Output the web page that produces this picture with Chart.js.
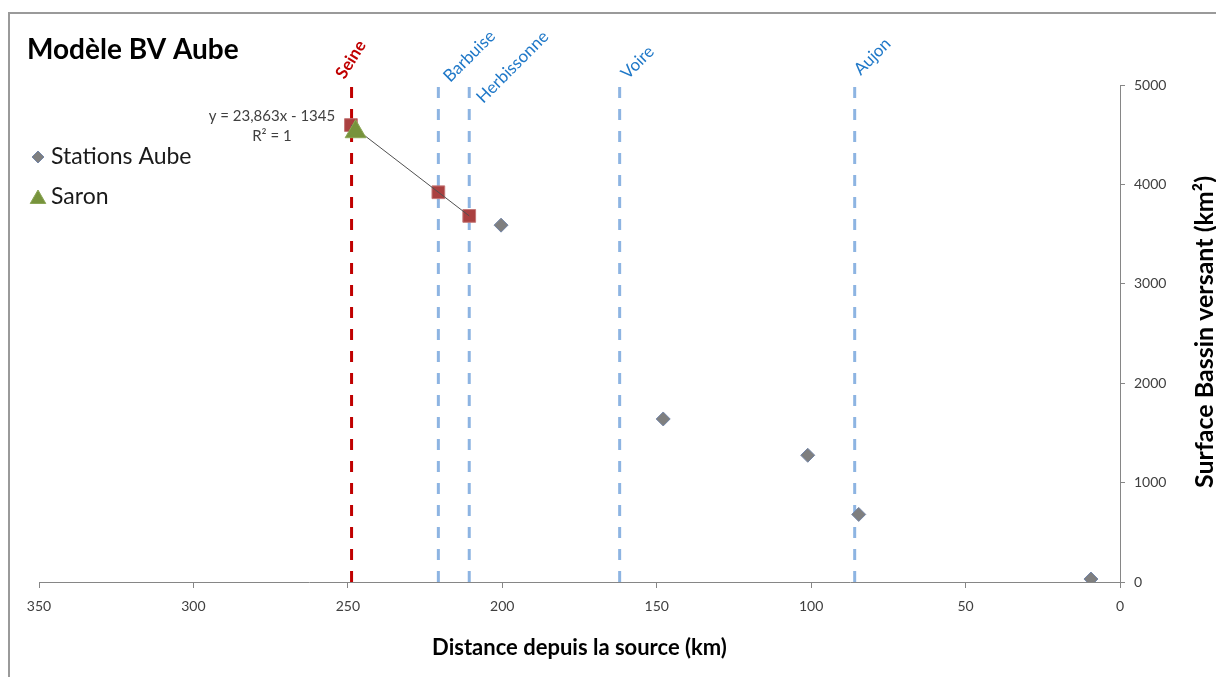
<!DOCTYPE html>
<html lang="fr">
<head>
<meta charset="UTF-8">
<title>Modèle BV Aube</title>
<script src="https://cdn.jsdelivr.net/npm/chart.js"></script>
<style>
  body { margin: 0; background: #fff; }
</style>
</head>
<body>
<canvas id="bvChart" width="1216" height="677"></canvas>
<script>
// stations le long de l'Aube : distance depuis la source (km) / surface BV (km²)
const stationKm = [200.4, 147.9, 101.1, 84.6, 9.4];
const stationArea = [3590, 1640, 1275, 680, 30];

const saronKm = [247.5];
const saronArea = [4530];

// points aux confluences (Seine, Barbuise, Herbissonne)
const confluenceKm = [249.0, 220.7, 210.7];
const confluenceArea = [4597, 3921, 3683];

// courbe de tendance : y = 23,863x - 1345
const trendKm = [249.0, 210.7];
const trendArea = [4597, 3683];

// affluents (lignes verticales)
const riverNames = ['Seine', 'Barbuise', 'Herbissonne', 'Voire', 'Aujon'];
const riverKm = [248.8, 220.7, 210.7, 162.0, 85.9];

const xMin = 0, xMax = 350, xStep = 50;
const yMin = 0, yMax = 5000, yStep = 1000;

const FONT = 'Lato, "Open Sans", sans-serif';
const BLUE = '#8DB4E2';
const RED = '#C00000';

function pts(xs, ys) {
  return xs.map((x, i) => ({ x: x, y: ys[i] }));
}

const riverSets = riverNames.map((name, i) => ({
  label: name,
  data: [{ x: riverKm[i], y: yMin }, { x: riverKm[i], y: yMax }],
  showLine: true,
  borderColor: i === 0 ? RED : BLUE,
  borderWidth: 3,
  borderDash: [11, 11],
  pointRadius: 0,
  order: 10
}));

// étiquettes des affluents : angle + décalage par rapport au haut de la ligne
const labelStyle = {
  Seine: { rot: -58, dx: -7, dy: -5, color: RED, bold: true },
  Barbuise: { rot: -45, dx: 12, dy: -2 },
  Herbissonne: { rot: -45, dx: 14, dy: 19 },
  Voire: { rot: -45, dx: 8, dy: -5 },
  Aujon: { rot: -45, dx: 6, dy: -9 }
};

const decor = {
  id: 'decor',
  beforeDraw(chart) {
    const ctx = chart.ctx;
    ctx.save();
    ctx.fillStyle = '#fff';
    ctx.fillRect(0, 0, chart.width, chart.height);
    ctx.strokeStyle = '#9a9a9a';
    ctx.lineWidth = 2;
    ctx.beginPath();
    ctx.moveTo(9, chart.height);
    ctx.lineTo(9, 13);
    ctx.lineTo(chart.width, 13);
    ctx.stroke();
    ctx.restore();
  },
  afterDatasetsDraw(chart) {
    const ctx = chart.ctx;
    const xs = chart.scales.x, ys = chart.scales.y;
    ctx.save();
    // noms des affluents
    riverNames.forEach((name, i) => {
      const st = labelStyle[name];
      const px = xs.getPixelForValue(riverKm[i]);
      const py = ys.getPixelForValue(yMax);
      ctx.save();
      ctx.translate(px + st.dx, py + st.dy);
      ctx.rotate(st.rot * Math.PI / 180);
      ctx.font = (st.bold ? 'bold ' : '') + '17px ' + FONT;
      ctx.fillStyle = st.color || '#1F78C8';
      ctx.textAlign = 'left';
      ctx.textBaseline = 'alphabetic';
      ctx.fillText(name, 0, 0);
      ctx.restore();
    });
    // équation de la tendance
    const tx = xs.getPixelForValue(trendKm[0]) - 79;
    const ty = ys.getPixelForValue(trendArea[0]);
    ctx.font = '15px ' + FONT;
    ctx.fillStyle = '#404040';
    ctx.textAlign = 'center';
    ctx.textBaseline = 'middle';
    ctx.fillText('y = 23,863x - 1345', tx, ty - 9);
    ctx.fillText('R² = 1', tx, ty + 11);
    ctx.restore();
  },
  afterDraw(chart) {
    const ctx = chart.ctx;
    ctx.save();
    // titre
    ctx.fillStyle = '#000';
    ctx.font = 'bold 28px ' + FONT;
    ctx.textAlign = 'left';
    ctx.textBaseline = 'middle';
    ctx.fillText('Modèle BV Aube', 27, 50);

    // légende
    const items = [
      { text: 'Stations Aube', ds: chart.data.datasets[2], y: 157, r: 6 },
      { text: 'Saron', ds: chart.data.datasets[3], y: 197, r: 9 }
    ];
    items.forEach(it => {
      ctx.fillStyle = it.ds.backgroundColor;
      ctx.strokeStyle = it.ds.borderColor;
      ctx.lineWidth = 1;
      Chart.helpers.drawPoint(ctx, {
        pointStyle: it.ds.pointStyle, radius: it.r, rotation: 0, borderWidth: 1
      }, 38, it.y + (it.ds.pointStyle === 'triangle' ? 2 : 0));
      ctx.fillStyle = '#1a1a1a';
      ctx.font = '23px ' + FONT;
      ctx.textAlign = 'left';
      ctx.textBaseline = 'middle';
      ctx.fillText(it.text, 51, it.y);
    });

    // titre de l'axe Y (lecture de bas en haut)
    ctx.translate(1205, 332);
    ctx.rotate(-Math.PI / 2);
    ctx.font = 'bold 25px ' + FONT;
    ctx.fillStyle = '#000';
    ctx.textAlign = 'center';
    ctx.textBaseline = 'middle';
    ctx.fillText('Surface Bassin versant (km²)', 0, 0);
    ctx.restore();
  }
};

new Chart(document.getElementById('bvChart').getContext('2d'), {
  type: 'scatter',
  data: {
    datasets: [
      {
        label: 'Tendance',
        data: pts(trendKm, trendArea),
        showLine: true,
        borderColor: '#505050',
        borderWidth: 1,
        pointRadius: 0,
        order: 1
      },
      {
        label: 'Confluences',
        data: pts(confluenceKm, confluenceArea),
        pointStyle: 'rect',
        pointRadius: 9,
        backgroundColor: '#AA4040',
        borderColor: '#C47777',
        borderWidth: 1,
        order: 2
      },
      {
        label: 'Stations Aube',
        data: pts(stationKm, stationArea),
        pointStyle: 'rectRot',
        pointRadius: 7,
        backgroundColor: '#7F7F7F',
        borderColor: '#7486A8',
        borderWidth: 1,
        order: 0
      },
      {
        label: 'Saron',
        data: pts(saronKm, saronArea),
        pointStyle: 'triangle',
        pointRadius: 12,
        backgroundColor: '#77933C',
        borderColor: '#8BA656',
        borderWidth: 1,
        order: 0
      },
      ...riverSets
    ]
  },
  options: {
    responsive: false,
    animation: false,
    layout: { padding: { left: 39, top: 85, right: 0, bottom: 0 } },
    plugins: {
      legend: { display: false },
      title: { display: false },
      tooltip: { enabled: false }
    },
    scales: {
      x: {
        type: 'linear',
        position: 'bottom',
        reverse: true,
        min: xMin,
        max: xMax,
        afterFit(scale) { scale.height = 95; },
        ticks: {
          stepSize: xStep,
          padding: 10,
          color: '#404040',
          font: { family: FONT, size: 14 },
          callback: v => String(v)
        },
        grid: { drawOnChartArea: false, drawTicks: true, tickLength: 6, color: '#868686' },
        border: { display: true, color: '#868686', width: 1 },
        title: {
          display: true,
          text: 'Distance depuis la source (km)',
          color: '#000',
          font: { family: FONT, size: 22, weight: 'bold' },
          padding: { top: 16, bottom: 16 }
        }
      },
      y: {
        type: 'linear',
        position: 'right',
        min: yMin,
        max: yMax,
        afterFit(scale) { scale.width = 96; },
        ticks: {
          stepSize: yStep,
          padding: 9,
          color: '#404040',
          font: { family: FONT, size: 14 },
          callback: v => String(v)
        },
        grid: { drawOnChartArea: false, drawTicks: true, tickLength: 5, color: '#868686' },
        border: { display: true, color: '#868686', width: 1 }
      }
    }
  },
  plugins: [decor]
});
</script>
</body>
</html>
